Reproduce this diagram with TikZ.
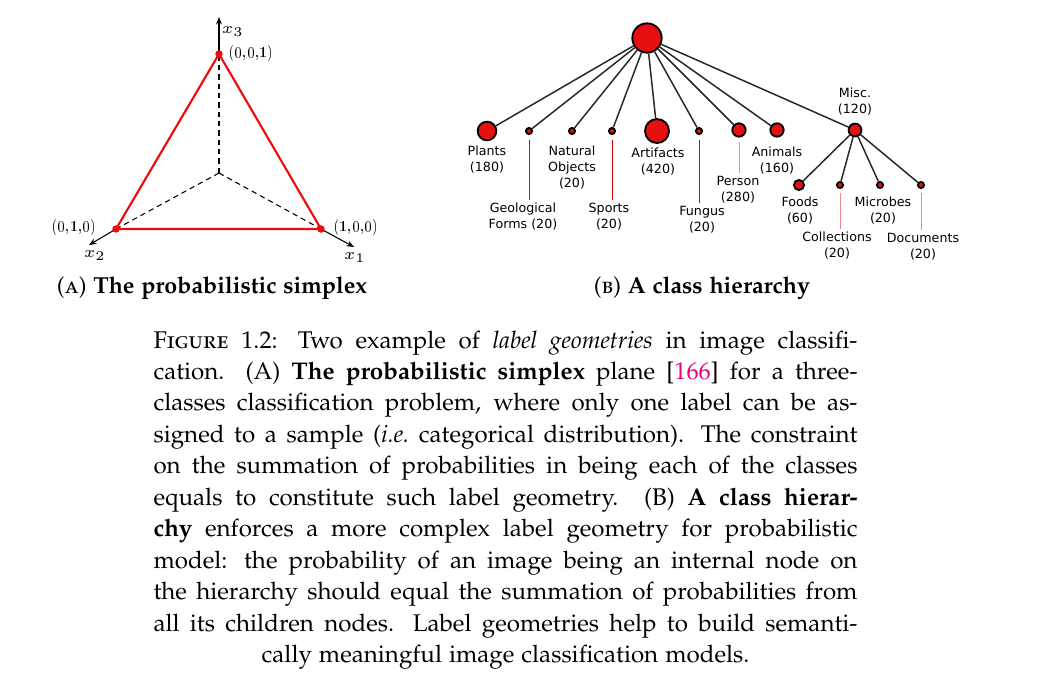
\documentclass[tikz,border=0pt]{standalone}
\usepackage{fontspec}
\newfontfamily\treefont{DejaVu Sans}
\usepackage[T1]{fontenc}
\renewcommand{\rmdefault}{pplx}
\usepackage{graphicx}
\usepackage{tikz}
\usetikzlibrary{
    arrows.meta,
    positioning
}
\usepackage{xcolor}
\usepackage{amsmath}
\definecolor{nodered}{RGB}{230,16,16}
\definecolor{leaderred}{RGB}{225,0,0}
\definecolor{leaderpink}{RGB}{240,135,135}
\definecolor{citepink}{RGB}{230,0,126}
\definecolor{simplexred}{RGB}{240,10,10}
\newcommand{\coordtext}[1]{\scalebox{0.6}{#1}}
\tikzstyle{catnode} = [
    circle,
    draw=black,
    line width=0.7pt,
    fill=nodered,
    inner sep=0pt
]
\tikzstyle{catlabel} = [
    align=center,
    inner sep=1pt,
    font=\treefont\fontsize{4.75}{6}\selectfont
]
\tikzstyle{branch} = [
    draw=black!85,
    line width=0.55pt
]
\tikzstyle{leader} = [
    line width=0.35pt
]
\tikzstyle{axis} = [
    -{Stealth[length=2.8pt,width=2.2pt]},
    line width=0.4pt
]
\tikzstyle{hiddenaxis} = [
    dash pattern=on 2pt off 1.5pt,
    line width=0.4pt
]
\tikzstyle{simplexedge} = [
    draw=simplexred,
    line width=0.8pt
]
\tikzstyle{coordlabel} = [
    inner sep=0pt,
    font=\fontfamily{lmr}\fontsize{10}{12}\selectfont
]
\tikzstyle{axislabel} = [
    inner sep=0pt,
    font=\fontsize{5.8}{7}\selectfont
]
\tikzstyle{subcaption} = [
    inner sep=0pt,
    font=\fontsize{8.7}{10.5}\selectfont
]
\tikzstyle{captiontext} = [
    inner sep=0pt,
    text width=264pt,
    align=justify,
    font=\fontsize{9.05}{11.8}\selectfont
]
\tikzstyle{captionlast} = [
    inner sep=0pt,
    font=\fontsize{9.05}{11.8}\selectfont
]

\begin{document}
\begin{tikzpicture}[x=0.375pt, y=-0.375pt]
    \useasboundingbox (0,0) rectangle (1055,680);

    % Simplex corners
    \coordinate (origin) at (219,173);
    \coordinate (e3) at (219,54);
    \coordinate (e2) at (116,229);
    \coordinate (e1) at (321,229);
    \coordinate (x3tip) at (219,17);
    \coordinate (x2tip) at (89,245);
    \coordinate (x1tip) at (354,247);

    % Axes
    \draw[hiddenaxis] (origin) -- (e3);
    \draw[hiddenaxis] (origin) -- (e2);
    \draw[hiddenaxis] (origin) -- (e1);
    \draw[axis] (e3) -- (x3tip);
    \draw[axis] (e2) -- (x2tip);
    \draw[axis] (e1) -- (x1tip);

    % Simplex plane
    \draw[simplexedge] (e1) -- (e2) -- (e3) -- cycle;
    \fill[simplexred] (e1) circle (1.4pt);
    \fill[simplexred] (e2) circle (1.4pt);
    \fill[simplexred] (e3) circle (1.4pt);

    % Simplex labels
    \node[axislabel] (x3lab) at (233,32) {$x_3$};
    \node[axislabel] (x2lab) at (95,256) {$x_2$};
    \node[axislabel] (x1lab) at (355,258) {$x_1$};
    \node[coordlabel] (e3lab) at (251,53) {\coordtext{(0,0,1)}};
    \node[coordlabel] (e2lab) at (74,227) {\coordtext{(0,1,0)}};
    \node[coordlabel] (e1lab) at (356,227) {\coordtext{(1,0,0)}};

    % Root class
    \node[catnode, minimum size=11pt] (root) at (647,38) {};

    % First level classes
    \node[catnode, minimum size=7pt] (plants) at (487,131) {};
    \node[catnode, minimum size=2.3pt] (geo) at (529,131) {};
    \node[catnode, minimum size=2.3pt] (natural) at (572,131) {};
    \node[catnode, minimum size=2.3pt] (sports) at (612,131) {};
    \node[catnode, minimum size=9pt] (artifacts) at (657,131) {};
    \node[catnode, minimum size=2.3pt] (fungus) at (699,131) {};
    \node[catnode, minimum size=5pt] (person) at (739,130) {};
    \node[catnode, minimum size=5pt] (animals) at (777,130) {};
    \node[catnode, minimum size=4.8pt] (misc) at (855,130) {};

    % Second level classes
    \node[catnode, minimum size=3.8pt] (foods) at (799,185) {};
    \node[catnode, minimum size=2.3pt] (collections) at (840,185) {};
    \node[catnode, minimum size=2.3pt] (microbes) at (880,185) {};
    \node[catnode, minimum size=2.3pt] (documents) at (921,185) {};

    % Branches
    \draw[branch] (root) -- (plants);
    \draw[branch] (root) -- (geo);
    \draw[branch] (root) -- (natural);
    \draw[branch] (root) -- (sports);
    \draw[branch] (root) -- (artifacts);
    \draw[branch] (root) -- (fungus);
    \draw[branch] (root) -- (person);
    \draw[branch] (root) -- (animals);
    \draw[branch] (root) -- (misc);
    \draw[branch] (misc) -- (foods);
    \draw[branch] (misc) -- (collections);
    \draw[branch] (misc) -- (microbes);
    \draw[branch] (misc) -- (documents);

    % Class labels
    \node[catlabel] (plantslab) at (487,160) {Plants\\(180)};
    \node[catlabel] (geolab) at (523,217) {Geological\\Forms (20)};
    \node[catlabel] (naturallab) at (572,168) {Natural\\Objects\\(20)};
    \node[catlabel] (sportslab) at (609,217) {Sports\\(20)};
    \node[catlabel] (artifactslab) at (658,162) {Artifacts\\(420)};
    \node[catlabel] (funguslab) at (702,220) {Fungus\\(20)};
    \node[catlabel] (personlab) at (738,189.5) {Person\\(280)};
    \node[catlabel] (animalslab) at (777,160.5) {Animals\\(160)};
    \node[catlabel] (misclab) at (855,102) {Misc.\\(120)};
    \node[catlabel] (foodslab) at (800,211) {Foods\\(60)};
    \node[catlabel] (collectionslab) at (837,245.5) {Collections\\(20)};
    \node[catlabel] (microbeslab) at (883,211) {Microbes\\(20)};
    \node[catlabel] (documentslab) at (923,246.5) {Documents\\(20)};

    % Leaders to labels
    \draw[leader, draw=leaderred] ([yshift=-2pt]geo.south) -- (geo |- geolab.north);
    \draw[leader, draw=leaderred] ([yshift=-2pt]sports.south) -- (sports |- sportslab.north);
    \draw[leader, draw=leaderred] ([yshift=-2pt]fungus.south) -- (fungus |- funguslab.north);
    \draw[leader, draw=leaderpink] ([yshift=-1.5pt]person.south) -- (person |- personlab.north);
    \draw[leader, draw=leaderpink] ([yshift=-1.5pt]collections.south) -- (collections |- collectionslab.north);
    \draw[leader, draw=leaderpink] ([yshift=-1.5pt]documents.south) -- (documents |- documentslab.north);

    % Sub captions
    \node[subcaption] (capa) at (212,288) {(\textsc{a}) \textbf{The probabilistic simplex}};
    \node[subcaption] (capb) at (702,288) {(\textsc{b}) \textbf{A class hierarchy}};

    % Figure caption
    \node[captiontext, anchor=north west] (figcap) at (153,330) {%
        \parfillskip=0pt \tolerance=9999
        \textsc{Figure 1.2}: Two example of \textit{label geometries} in image classifi-\linebreak
        cation. (A) \textbf{The probabilistic simplex} plane [\textcolor{citepink}{166}] for a three-\linebreak
        classes classification problem, where only one label can be as-\linebreak
        signed to a sample (\textit{i.e.}\ categorical distribution). The constraint\linebreak
        on the summation of probabilities in being each of the classes\linebreak
        equals to constitute such label geometry. (B) \textbf{A class hierar-}\linebreak
        \textbf{chy} enforces a more complex label geometry for probabilistic\linebreak
        model: the probability of an image being an internal node on\linebreak
        the hierarchy should equal the summation of probabilities from\linebreak
        all its children nodes. Label geometries help to build semanti-\par};
    \node[captionlast, anchor=base] (figcaplast) at ([yshift=-118pt]figcap.base) {cally meaningful image classification models.};
\end{tikzpicture}
\end{document}
